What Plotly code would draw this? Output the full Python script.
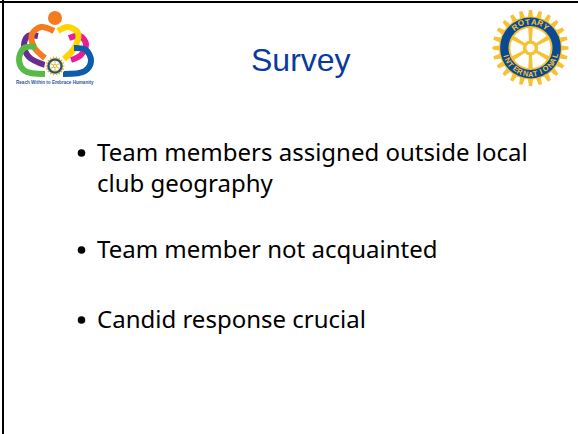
import numpy as np
import plotly.graph_objects as go

title = "Survey"
bullets = ["Team members assigned outside local", "club geography", "Team member not acquainted", "Candid response crucial"]
bullet_y = [151, 182, 248, 318]
bullet_marks = [153, 250, 320]
tagline = "Reach Within to Embrace Humanity"

ribbons = {
    "#6a2c8f": ([38, 28, 24, 29, 45], [36, 36, 45, 57, 65]),
    "#ec1c94": ([69, 80, 86, 81, 71], [38, 36, 44, 55, 60]),
    "#f47b20": ([54, 41, 32, 34, 45], [31, 27, 34, 47, 58]),
    "#ffd400": ([58, 68, 78, 75, 64], [31, 27, 33, 47, 59]),
    "#57b947": ([36, 24, 19, 25, 45], [47, 48, 60, 71, 74]),
    "#0b5cab": ([74, 86, 91, 85, 63], [48, 50, 61, 71, 74]),
}

fig = go.Figure()
shapes = []
ann = []

def circle(cx, cy, r, fill, line=None, lw=0):
    shapes.append(dict(type="circle", xref="x", yref="y", x0=cx-r, x1=cx+r, y0=cy-r, y1=cy+r,
                       fillcolor=fill, line=dict(color=line or fill, width=lw), layer="above"))

def gear_path(cx, cy, r_in, r_out, n):
    pts = []
    for i in range(n):
        a = 2*np.pi*i/n
        w = 2*np.pi/n
        for da, r in [(-0.30*w, r_in), (-0.16*w, r_out), (0.16*w, r_out), (0.30*w, r_in)]:
            pts.append((cx+r*np.cos(a+da), cy+r*np.sin(a+da)))
    return "M" + "L".join(f"{x:.1f},{y:.1f}" for x, y in pts) + "Z"

def wheel(cx, cy, R, gold, blue, n=24):
    shapes.append(dict(type="path", xref="x", yref="y", path=gear_path(cx, cy, R*0.83, R, n),
                       fillcolor=gold, line=dict(width=0), layer="above"))
    circle(cx, cy, R*0.80, blue)
    circle(cx, cy, R*0.58, gold)
    circle(cx, cy, R*0.53, "white")
    for k in range(6):
        a = np.pi/2 + k*np.pi/3
        dx, dy = np.cos(a), np.sin(a)
        px, py = -dy*R*0.05, dx*R*0.05
        shapes.append(dict(type="path", xref="x", yref="y",
            path=f"M{cx+px*0.5:.1f},{cy+py*0.5:.1f}L{cx+dx*R*0.55+px*1.2:.1f},{cy+dy*R*0.55+py*1.2:.1f}"
                 f"L{cx+dx*R*0.55-px*1.2:.1f},{cy+dy*R*0.55-py*1.2:.1f}L{cx-px*0.5:.1f},{cy-py*0.5:.1f}Z",
            fillcolor=gold, line=dict(width=0), layer="above"))
    circle(cx, cy, R*0.20, gold)
    circle(cx, cy, R*0.11, "white")

def arc_text(text, cx, cy, r, start, end, size, color):
    for ch, d in zip(text, np.linspace(start, end, len(text))):
        a = np.radians(d)
        top = 180 < d < 360
        ann.append(dict(x=cx+r*np.cos(a), y=cy+r*np.sin(a), xref="x", yref="y", text=f"<b>{ch}</b>", showarrow=False,
                        textangle=(d+90) if top else (d-90), font=dict(size=size, color=color, family="Liberation Sans")))

# frame
shapes.append(dict(type="line", xref="x", yref="y", x0=0, x1=578, y0=2, y1=2, line=dict(color="black", width=2), layer="above"))
shapes.append(dict(type="line", xref="x", yref="y", x0=3, x1=3, y0=0, y1=434, line=dict(color="black", width=2), layer="above"))

# left logo
for color, (xs, ys) in ribbons.items():
    fig.add_trace(go.Scatter(x=xs, y=ys, mode="lines", hoverinfo="skip", showlegend=False,
                             line=dict(color=color, width=6, shape="spline", smoothing=1.0)))
circle(55, 18, 7, "#f47b20")
circle(55, 66, 10.5, "white")
wheel(55, 66, 9.5, "#d9b92e", "#1d4f91", n=18)

# right logo
wheel(530.5, 48, 38, "#f6c233", "#0b4a93")
arc_text("ROTARY", 530.5, 48, 26, 233, 307, 8, "#f6c233")
arc_text("INTERNATIONAL", 530.5, 48, 26, 163, 17, 7.5, "#f6c233")

# texts
ann.append(dict(x=301, y=60, xref="x", yref="y", text=title, showarrow=False,
                font=dict(size=32, color="#0b3a9e", family="Liberation Sans")))
ann.append(dict(x=55, y=82, xref="x", yref="y", text=f"<b>{tagline}</b>", showarrow=False,
                font=dict(size=4.6, color="#2a5aa8", family="Liberation Sans")))
for t, y in zip(bullets, bullet_y):
    ann.append(dict(x=94.5, y=y, xref="x", yref="y", text=t, showarrow=False, xanchor="left", yanchor="middle",
                    font=dict(size=24, color="black", family="Noto Sans")))
for y in bullet_marks:
    circle(81.5, y, 3.8, "black")

fig.update_layout(width=578, height=434, margin=dict(l=0, r=0, t=0, b=0), autosize=False,
                  paper_bgcolor="white", plot_bgcolor="white", showlegend=False,
                  xaxis=dict(range=[0, 578], visible=False, fixedrange=True),
                  yaxis=dict(range=[434, 0], visible=False, fixedrange=True),
                  shapes=shapes, annotations=ann)
fig.write_html("out.html", config={"displayModeBar": False},
               post_script="document.body.style.margin='0';document.documentElement.style.overflow='hidden';")
